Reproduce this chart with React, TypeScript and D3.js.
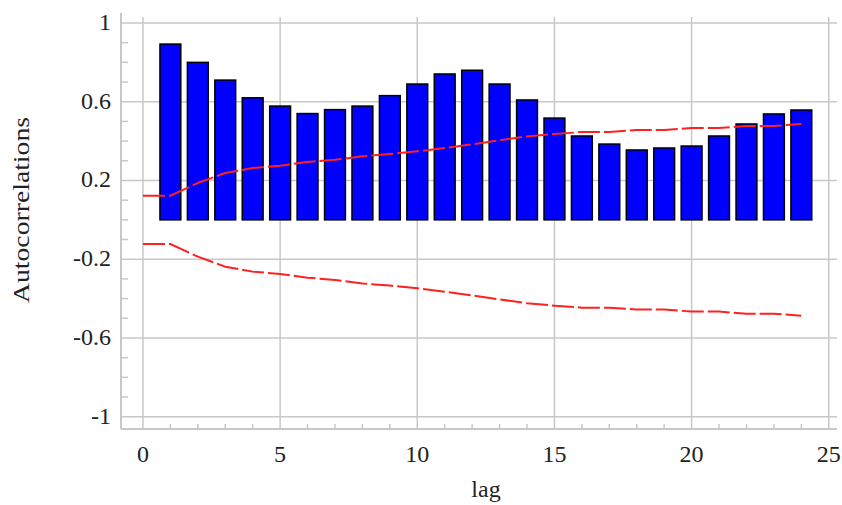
import { useEffect, useRef } from "react";
import * as d3 from "d3";

// autocorrelation per lag
const lags = d3.range(1, 25);
const acf = [0.893, 0.8, 0.71, 0.62, 0.578, 0.54, 0.56, 0.578, 0.631, 0.69, 0.741, 0.76,
  0.69, 0.609, 0.517, 0.426, 0.385, 0.355, 0.365, 0.375, 0.426, 0.487, 0.538, 0.558];

// confidence band (upper; lower is the mirror)
const bandLags = d3.range(0, 25);
const band = [0.123, 0.123, 0.187, 0.238, 0.263, 0.275, 0.294, 0.305, 0.323, 0.334, 0.348, 0.365,
  0.384, 0.404, 0.424, 0.436, 0.446, 0.446, 0.456, 0.456, 0.466, 0.466, 0.477, 0.477, 0.487];

const xTicks = [0, 5, 10, 15, 20, 25];
const yTicks = [1, 0.6, 0.2, -0.2, -0.6, -1];

const W = 842, H = 505;
const font = "'Liberation Serif', 'Times New Roman', serif";

export default function App() {
  const svgRef = useRef<SVGSVGElement>(null);

  useEffect(() => {
    const svg = d3.select(svgRef.current);
    svg.selectAll("*").remove();

    const x = d3.scaleLinear().domain([-0.8, 25.3]).range([121, 837]);
    const y = d3.scaleLinear().domain([1, -1]).range([23, 416.7]);
    const yBottom = y(-1.0625), yTop = y(1.03);
    const grid = "#c8c8c8";

    // grid
    svg.append("g").selectAll("line").data(xTicks).join("line")
      .attr("x1", d => x(d)).attr("x2", d => x(d))
      .attr("y1", yTop).attr("y2", yBottom)
      .attr("stroke", grid).attr("stroke-width", 1.5);
    svg.append("g").selectAll("line").data(yTicks).join("line")
      .attr("x1", x.range()[0]).attr("x2", x.range()[1])
      .attr("y1", d => y(d)).attr("y2", d => y(d))
      .attr("stroke", grid).attr("stroke-width", 1.5);

    // axes lines
    svg.append("line").attr("x1", x.range()[0]).attr("x2", x.range()[0])
      .attr("y1", y(1.051)).attr("y2", yBottom).attr("stroke", grid).attr("stroke-width", 2);
    svg.append("line").attr("x1", x.range()[0]).attr("x2", x.range()[1])
      .attr("y1", yBottom).attr("y2", yBottom).attr("stroke", grid).attr("stroke-width", 2);

    // minor ticks
    const yMinor = d3.range(-10, 11).map(d => d / 10).filter(d => !yTicks.some(t => Math.abs(t - d) < 1e-6));
    svg.append("g").selectAll("line").data(yMinor).join("line")
      .attr("x1", x.range()[0]).attr("x2", x.range()[0] + 7)
      .attr("y1", d => y(d)).attr("y2", d => y(d))
      .attr("stroke", grid).attr("stroke-width", 1.5);
    const xMinor = d3.range(0, 25).filter(d => d % 5 !== 0);
    svg.append("g").selectAll("line").data(xMinor).join("line")
      .attr("x1", d => x(d)).attr("x2", d => x(d))
      .attr("y1", yBottom).attr("y2", yBottom - 5)
      .attr("stroke", grid).attr("stroke-width", 1.5);

    // bars
    const bw = 0.76;
    svg.append("g").selectAll("rect").data(lags).join("rect")
      .attr("x", d => x(d - bw / 2))
      .attr("width", x(bw) - x(0))
      .attr("y", (d, i) => y(acf[i]))
      .attr("height", (d, i) => y(0) - y(acf[i]))
      .attr("fill", "#0000ff").attr("stroke", "#000").attr("stroke-width", 1.5);

    // confidence bands
    const line = d3.line<number>().x((d, i) => x(bandLags[i])).y(d => y(d));
    [band, band.map(v => -v)].forEach(b => {
      svg.append("path").attr("d", line(b))
        .attr("fill", "none").attr("stroke", "#ff2020").attr("stroke-width", 2)
        .attr("stroke-dasharray", "22,4");
    });

    // tick labels
    svg.append("g").selectAll("text").data(yTicks).join("text")
      .attr("x", 111).attr("y", d => y(d) + 7)
      .attr("text-anchor", "end").attr("font-family", font).attr("font-size", 24)
      .attr("fill", "#222").text(d => String(d));
    svg.append("g").selectAll("text").data(xTicks).join("text")
      .attr("x", d => x(d)).attr("y", 462)
      .attr("text-anchor", "middle").attr("font-family", font).attr("font-size", 24)
      .attr("fill", "#222").text(d => String(d));

    // axis titles
    svg.append("text").attr("x", 486).attr("y", 497)
      .attr("text-anchor", "middle").attr("font-family", font).attr("font-size", 24)
      .attr("fill", "#222").text("lag");

    svg.append("defs").append("clipPath").attr("id", "lblclip").append("rect")
      .attr("x", 13).attr("y", 0).attr("width", 60).attr("height", H);
    svg.append("g").attr("clip-path", "url(#lblclip)")
      .append("text")
      .attr("transform", "translate(29,210) rotate(-90)")
      .attr("text-anchor", "middle").attr("font-family", font).attr("font-size", 24)
      .attr("textLength", 186).attr("lengthAdjust", "spacingAndGlyphs")
      .attr("fill", "#222").text("Autocorrelations");
  }, []);

  return (
    <svg ref={svgRef} width={W} height={H}
      style={{ position: "absolute", left: 0, top: 0, background: "#fff" }} />
  );
}
